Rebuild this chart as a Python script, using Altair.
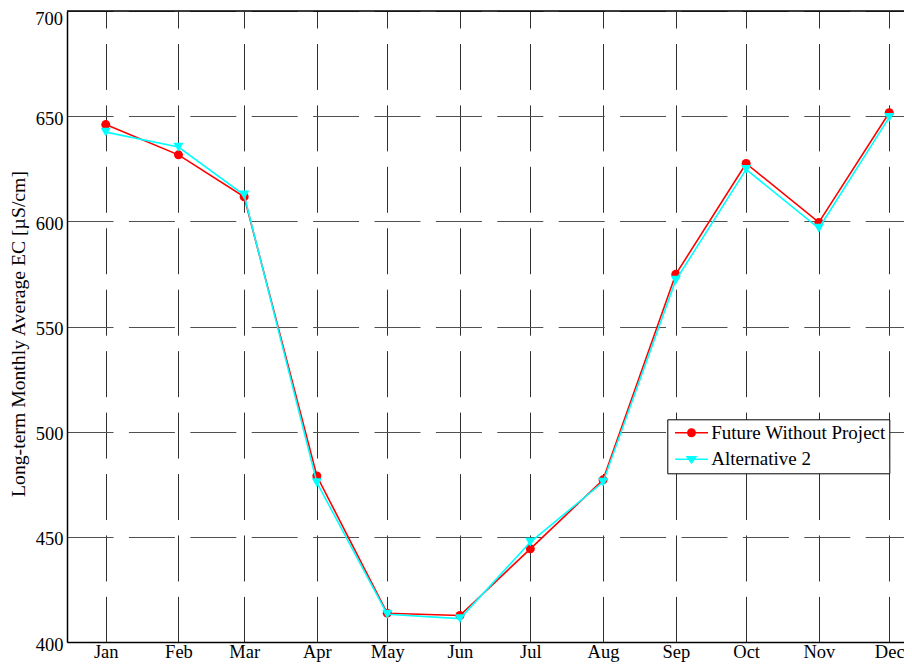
import altair as alt
import pandas as pd

months = ["Jan", "Feb", "Mar", "Apr", "May", "Jun",
          "Jul", "Aug", "Sep", "Oct", "Nov", "Dec"]
month_day = [1, 32, 60, 91, 121, 152, 182, 213, 244, 274, 305, 335]
y_ticks = [400, 450, 500, 550, 600, 650, 700]
series_names = ["Future Without Project", "Alternative 2"]
future_without_project = [646.0, 631.6, 611.7, 478.9, 413.7, 412.6,
                          444.3, 477.1, 574.8, 627.5, 599.5, 651.6]
alternative_2 = [642.4, 635.3, 612.5, 475.8, 413.2, 411.1,
                 447.5, 476.0, 572.0, 624.7, 596.7, 649.4]
series_colors = ["#ff0000", "#00ffff"]

rows = []
for name, vals in zip(series_names, [future_without_project, alternative_2]):
    for m, d, v in zip(months, month_day, vals):
        rows.append({"month": m, "day": d, "series": name, "ec": v})
df = pd.DataFrame(rows)

FONT = "Liberation Serif"
X_MIN, X_MAX = -15.52, 341.3
Y_MIN, Y_MAX = y_ticks[0], y_ticks[-1]

x_scale = alt.Scale(domain=[X_MIN, X_MAX], nice=False, zero=False)
y_scale = alt.Scale(domain=[Y_MIN, Y_MAX], nice=False, zero=False)
color_scale = alt.Scale(domain=series_names, range=series_colors)

label_expr = "[" + ",".join("'%s'" % m for m in months) + "][indexof([" + \
    ",".join(str(d) for d in month_day) + "], datum.value)]"

x_axis = alt.Axis(values=month_day, labelExpr=label_expr, title=None,
                  grid=True, gridDash=[46, 15.44], gridDashOffset=29,
                  gridColor="#303030", gridWidth=1, ticks=False,
                  labelPadding=0, domainColor="black", domainWidth=1.3,
                  labelFont=FONT, labelFontSize=18.5, labelColor="black")
# the top tick label is drawn separately so that it stays inside the page
y_axis = alt.Axis(values=y_ticks,
                  labelExpr="datum.value == %d ? '' : datum.label" % Y_MAX,
                  title="Long-term Monthly Average EC [µS/cm]",
                  grid=True, gridDash=[46, 15.4], gridColor="#505050",
                  gridWidth=1, ticks=False, labelPadding=4,
                  labelBaseline="middle", labelOffset=2,
                  domainColor="black", domainWidth=1.5,
                  labelFont=FONT, labelFontSize=18.5, labelColor="black",
                  titleFont=FONT, titleFontSize=19.7, titleFontWeight="normal",
                  titleColor="black", titleAngle=270, titleAlign="center",
                  titleBaseline="alphabetic", titleX=-43, titleY=322.5)

X = alt.X("day:Q", scale=x_scale, axis=x_axis)
Y = alt.Y("ec:Q", scale=y_scale, axis=y_axis)

base = alt.Chart(df)


def series_layers(name, color, shape, size):
    sub = base.transform_filter(alt.datum.series == name)
    line = sub.mark_line(strokeWidth=1.6, color=color).encode(x=X, y=Y)
    pts = sub.mark_point(filled=True, shape=shape, size=size, opacity=1,
                         color=color).encode(x=X, y=Y)
    return [line, pts]


# single-row table for the box's top edge and the top tick label
top_df = pd.DataFrame({"x0": [X_MIN], "x1": [X_MAX], "ytop": [Y_MAX]})

top_border = alt.Chart(top_df).mark_rule(color="black", strokeWidth=1.5).encode(
    x=alt.X("x0:Q", scale=x_scale, axis=x_axis),
    x2="x1:Q",
    y=alt.Y("ytop:Q", scale=y_scale, axis=y_axis),
)

top_label = alt.Chart(top_df).mark_text(
    align="right", baseline="top", dx=-4, dy=-1,
    font=FONT, fontSize=18.5, color="black").encode(
    x=alt.X("x0:Q", scale=x_scale, axis=x_axis),
    y=alt.Y("ytop:Q", scale=y_scale, axis=y_axis),
    text=alt.Text("ytop:Q", format="d"),
)

# legend symbols: line segment with marker (unit coordinates)
circle_sym = ("M-1.65,-0.075H-0.44V0.075H-1.65Z M0.44,-0.075H1.65V0.075H0.44Z "
              "M-0.45,0A0.45,0.45 0 1,0 0.45,0A0.45,0.45 0 1,0 -0.45,0Z")
tri_sym = ("M-1.65,-0.075H1.65V0.075H-1.65Z "
           "M-0.585,-0.33H0.585L0,0.5Z")

legend = alt.Legend(title=None, orient="none", legendX=600.3, legendY=408.3,
                    fillColor="white", strokeColor="black", padding=3.5,
                    symbolSize=400, symbolOffset=10.7, labelOffset=9.7,
                    rowPadding=6.5, symbolStrokeWidth=0,
                    labelFont=FONT, labelFontSize=19, labelColor="black",
                    labelLimit=400)

legend_layer = base.transform_filter("false").mark_point(
    filled=True, opacity=1).encode(
    x=X, y=Y,
    color=alt.Color("series:N", scale=color_scale, legend=legend),
    shape=alt.Shape("series:N",
                    scale=alt.Scale(domain=series_names,
                                    range=[circle_sym, tri_sym]),
                    legend=legend),
)

layers = (series_layers(series_names[0], series_colors[0], "circle", 81)
          + series_layers(series_names[1], series_colors[1], "triangle-down", 105)
          + [top_border, top_label, legend_layer])

chart = alt.layer(*layers).properties(
    width=837, height=631,
    autosize=alt.AutoSizeParams(type="none"),
    padding={"left": 59, "top": 3, "right": 0, "bottom": 20},
).configure_view(stroke=None).configure(background="white")

chart.save("out.html", embed_options={"renderer": "svg", "actions": False})
